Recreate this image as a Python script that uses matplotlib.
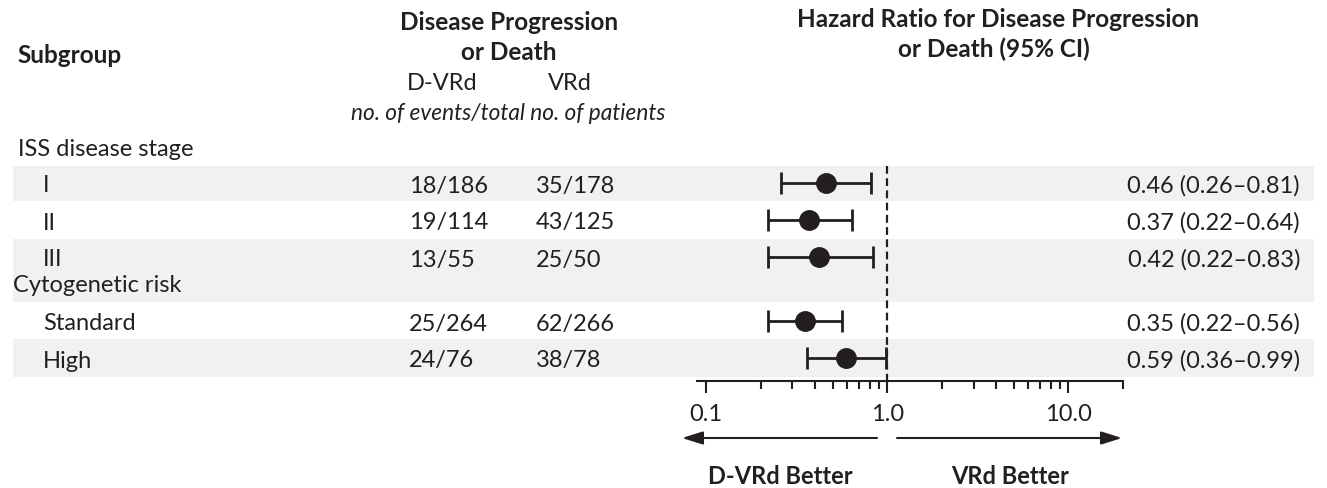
import matplotlib
matplotlib.use("Agg")
import matplotlib.pyplot as plt
from matplotlib.patches import Rectangle
from matplotlib.ticker import FixedLocator, FixedFormatter, NullFormatter

# ---- data ----
groups = ["ISS disease stage", "Cytogenetic risk"]
subgroups = ["I", "II", "III", "Standard", "High"]
dvrd_events = ["18/186", "19/114", "13/55", "25/264", "24/76"]
vrd_events = ["35/178", "43/125", "25/50", "62/266", "38/78"]
hr = [0.46, 0.37, 0.42, 0.35, 0.59]
ci_low = [0.26, 0.22, 0.22, 0.22, 0.36]
ci_high = [0.81, 0.64, 0.83, 0.56, 0.99]
major_ticks = [0.1, 1.0, 10.0]
major_labels = ["0.1", "1.0", "10.0"]

# ---- layout (pixel coords, y measured from top) ----
group_y = [148, 284]
row_y = [184, 221, 258, 322, 359]
bands = [(167, 202), (240, 303), (340, 378)]
INK = "#231f20"
BAND = "#f1f1f3"
FS = 17
FS_BOLD = 17.5

plt.rcParams["font.family"] = ["Lato", "DejaVu Sans"]
plt.rcParams["text.color"] = INK

fig = plt.figure(figsize=(13.27, 4.89), dpi=100)

# background axes in pixel units for text and shading
bg = fig.add_axes([0, 0, 1, 1])
bg.set_xlim(0, 1327)
bg.set_ylim(489, 0)
bg.axis("off")

for top, bot in bands:
    bg.add_patch(Rectangle((13, top), 1301, bot - top, color=BAND, lw=0, zorder=0))

# headers
bg.text(17, 63, "Subgroup", fontsize=FS_BOLD, fontweight="bold", ha="left")
bg.text(509, 30, "Disease Progression", fontsize=FS_BOLD, fontweight="bold", ha="center")
bg.text(509, 60, "or Death", fontsize=FS_BOLD, fontweight="bold", ha="center")
bg.text(442, 90, "D-VRd", fontsize=FS, ha="center")
bg.text(570, 90, "VRd", fontsize=FS, ha="center")
bg.text(508, 120, "no. of events/total no. of patients", fontsize=16.3,
        style="italic", ha="center")
bg.text(998, 27, "Hazard Ratio for Disease Progression", fontsize=FS_BOLD,
        fontweight="bold", ha="center")
bg.text(994, 57, "or Death (95% CI)", fontsize=FS_BOLD, fontweight="bold", ha="center")

# group labels
bg.text(18, group_y[0] + 8, groups[0], fontsize=FS, ha="left")
bg.text(13, group_y[1] + 8, groups[1], fontsize=FS, ha="left")

# rows
for i, name in enumerate(subgroups):
    yb = row_y[i] + 8.5
    bg.text(43, yb, name, fontsize=FS, ha="left")
    bg.text(409, yb, dvrd_events[i], fontsize=FS, ha="left")
    bg.text(536, yb, vrd_events[i], fontsize=FS, ha="left")
    bg.text(1300, yb, f"{hr[i]:.2f} ({ci_low[i]:.2f}\u2013{ci_high[i]:.2f})",
            fontsize=FS, ha="right")

# forest plot axes, y in the same pixel units
ax_l, ax_r, ax_t, ax_b = 697, 1123, 160, 382
ax = fig.add_axes([ax_l / 1327, (489 - ax_b) / 489, (ax_r - ax_l) / 1327, (ax_b - ax_t) / 489])
ax.patch.set_visible(False)
ax.set_xscale("log")
ax.set_xlim(10 ** (-1 - 9 / 181), 20)
ax.set_ylim(ax_b, ax_t)
for s in ["top", "left", "right"]:
    ax.spines[s].set_visible(False)
ax.spines["bottom"].set_linewidth(1.5)
ax.spines["bottom"].set_color(INK)
ax.set_yticks([])
ax.xaxis.set_major_locator(FixedLocator(major_ticks))
ax.xaxis.set_major_formatter(FixedFormatter(major_labels))
ax.xaxis.set_minor_locator(FixedLocator([0.2, 0.3, 0.4, 0.5, 0.6, 0.7, 0.8, 0.9,
                                         2, 3, 4, 5, 6, 7, 8, 9, 20]))
ax.xaxis.set_minor_formatter(NullFormatter())
ax.tick_params(axis="x", which="major", length=8.5, width=1.5, pad=7,
               labelsize=FS, colors=INK)
ax.tick_params(axis="x", which="minor", length=6, width=1.5, colors=INK)

ax.plot([1, 1], [167, ax_b], color=INK, lw=1.6, ls=(0, (3.5, 2)), zorder=1)

xerr = [[h - l for h, l in zip(hr, ci_low)], [u - h for h, u in zip(hr, ci_high)]]
ax.errorbar(hr, row_y, xerr=xerr, fmt="o", color=INK, ms=14, elinewidth=2,
            capsize=8, capthick=2, clip_on=False, zorder=3)

# direction arrows
arrow = dict(arrowstyle="-|>,head_length=0.7,head_width=0.22", lw=1.5, color=INK,
             shrinkA=0, shrinkB=0, mutation_scale=18)
bg.annotate("", xy=(682, 439), xytext=(877, 439), arrowprops=arrow)
bg.annotate("", xy=(1122, 439), xytext=(897, 439), arrowprops=arrow)
bg.text(780, 484, "D-VRd Better", fontsize=FS, fontweight="bold", ha="center")
bg.text(1010, 484, "VRd Better", fontsize=FS, fontweight="bold", ha="center")

fig.savefig("out.png", dpi=100)
